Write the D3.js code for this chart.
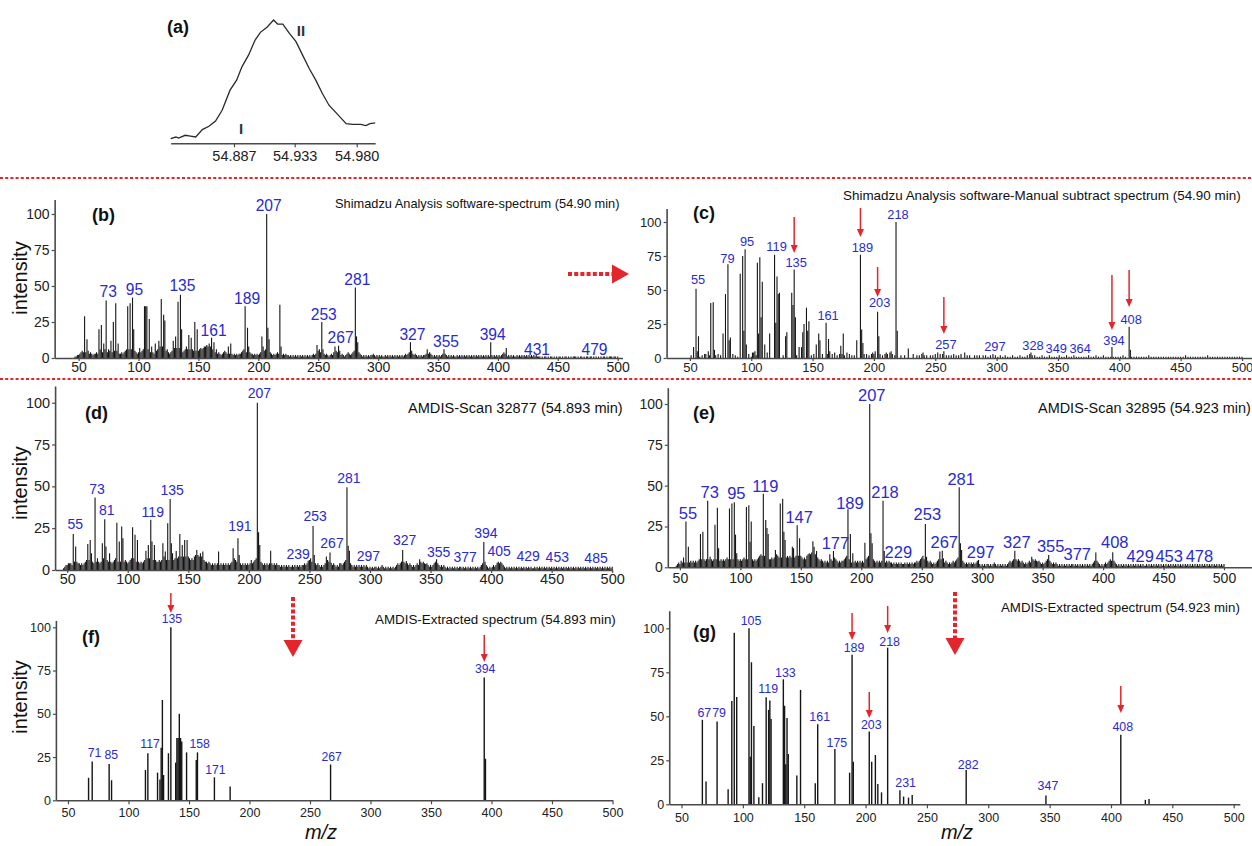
<!DOCTYPE html>
<html><head><meta charset="utf-8">
<script src="https://cdn.jsdelivr.net/npm/d3@7"></script>
<style>
body{margin:0;background:#fff}
svg{display:block}
text{font-family:"Liberation Sans",Arial,Helvetica,sans-serif}
</style>
</head><body>
<svg id="chart" width="1252" height="846"></svg>
<script>
// ---------------- DATA ----------------
// (a) total ion chromatogram segment
const aTime = [54.839,54.843,54.845,54.850,54.854,54.858,54.863,54.868,54.873,54.878,54.884,54.889,54.893,54.898,54.903,54.907,54.912,54.917,54.920,54.924,54.929,54.934,54.939,54.944,54.949,54.954,54.959,54.965,54.972,54.977,54.983,54.987,54.990,54.994];
const aInt  = [3.8,5.1,4.3,6.5,5.9,5.1,11.1,13.8,18.1,26.8,43.1,51.2,62.0,71.5,83.7,90.0,94.1,100,96.7,96.7,89.2,82.4,71.5,60.7,51.2,40.4,30.9,24.1,16.0,15.4,15.4,14.4,16.0,16.5];
const aTicks = [54.887, 54.933, 54.980];
const aDomain = [54.839, 54.994];

const mzTicks = [50,100,150,200,250,300,350,400,450,500];
const intTicks = [0,25,50,75,100];
const noiseStart = 45; // m/z of first digit in the noise strings

// (b) Shimadzu spectrum
const bPeaks = [[52,4],[53,5],[55,29],[57,13],[67,20],[69,23],[71,10],[73,40],[77,12],[79,25],[81,38],[83,10],[91,36],[93,38],[95,42],[96,20],[101,7],[105,36],[106,36],[107,36],[109,27],[111,8],[114,10],[117,12],[119,41],[121,30],[122,26],[129,12],[131,15],[133,39],[135,44],[136,20],[140,8],[142,16],[144,14],[147,25],[149,20],[152,5],[155,7],[157,9],[159,10],[161,14],[163,11],[165,6],[172,5],[175,8],[177,10],[189,36],[191,21],[192,8],[203,15],[204,8],[207,100],[208,21],[209,13],[216,4],[218,37],[219,8],[249,9],[253,25],[254,6],[264,8],[267,8.5],[268,5],[275,4],[281,49],[282,15],[283,11],[327,11],[328,5],[341,6],[355,6],[394,11],[405,3.5],[407,7]];
const bNoise = "0011223434 5465343233 4356547654 6574656543 3434567676 7654343456 7676545434 5678787656 4345676787 6545676565 6545656767 8898987654 4343234343 4323232323 3456544343 3232323456 5676543232 3434323232 2121212121 2121212121 2323456432 3232123243 5453232123 2323457864 3212121212 2321212121 1212121212 1212121232 3454323212 1212234343 2121212123 4321212121 1212121212 1212121212 1212121213 2121212123 4321212121 1212121212 1212121211 1010110101 1010101101 0110101011 1010110101 1011010101 0101101011 101101";
const bLabels = [[73,46],[95,47.7],[135,50.2],[161,18.8],[189,41.5],[207,106],[253,30.3],[267,14.1],[281,54.7],[327,16.5],[355,11.3],[394,16.5],[431,6],[479,6]];

// (c) manual subtract spectrum
const cPeaks = [[51,2],[53,8],[55,51],[56,5],[57,16],[63,3],[65,5],[67,40.5],[69,41],[70,6],[77,18],[79,47],[81,69],[82,13],[83,15],[91,62],[93,75],[94,20],[95,80],[96,10],[101,4],[103,5],[105,70],[106,18],[107,74],[108,30],[109,56],[111,10],[115,18],[119,76],[120,26],[121,60],[122,47],[123,48],[128,16],[129,19],[133,48],[134,39],[135,65],[136,30],[139,8],[141,8],[142,19],[143,25],[145,37],[146,20],[147,27],[153,10],[155,18],[156,13],[161,26],[163,14],[173,9],[175,18],[186,13],[189,76],[190,21],[191,11],[199,4],[201,5],[203,34],[204,16],[210,4],[214,5],[218,100],[219,20],[228,7],[240,4],[252,4],[257,5],[274,4],[297,3],[327,3],[328,4],[394,8],[408,23],[409,6]];
const cNoise = "0000000000 0001020300 0200102030 2030000020 3020100000 0203010402 0000002040 0000000000 0202000000 0020300000 0000203020 0003000305 0304020303 0204030202 0300000303 0203030000 3020303040 3020000200 2000000300 2020302020 0202030203 0300202020 3020203002 0202000202 0200202010 2030201020 1020101020 1010201010 2000202010 1020101020 1010102010 1020101020 1010101010 2010102010 1020101010 1010101020 1000010101 0101010102 0101010101 0101010101 0101010102 0101010101 0101010201 0101010101 0101010101 010101";
// [m/z, label level, optional nudge]
const cLabels = [[55,57.4],[79,72.8],[95,85.5],[119,81.8],[135,70.4],[161,31.6],[189,81.1],[203,40.7],[218,105.7],[257,10],[297,8.8],[328,9],[349,7.1,-2.5],[364,7.1,3],[394,12.7],[408,28.4]];
const cArrows = [[135,103.7,77.2],[189,110.3,89],[203,66.9,44.9],[257,44.9,17.6],[394,61,20.6],[408,64.7,37.5]];

// (d) AMDIS scan 32877
const dPeaks = [[50,3],[52,4],[55,21.5],[57,14],[59,4],[67,15.5],[69,18],[70,10],[73,43.4],[75,7],[79,16],[81,30.3],[82,14],[85,10],[91,28.3],[93,17],[95,26],[96,19],[104,25.5],[106,21],[108,18],[115,11.5],[117,15],[119,30],[120,17],[122,15],[129,16],[131,11],[133,28],[135,42.4],[136,16],[137,10],[140,11.4],[143,21.5],[145,15],[147,18],[149,18],[157,12],[160,10],[162,11],[175,11],[187,13],[191,19],[192,9],[202,6],[207,100],[208,22.5],[209,15],[218,11.5],[248,3.4],[249,5.6],[250,4.4],[253,26.3],[254,9],[264,8],[267,10.4],[268,4.4],[275,4],[281,49.4],[282,14.5],[283,11.5],[327,12],[328,4.4],[330,5.4],[341,6.4],[343,4],[346,3.6],[355,6.4],[394,16.7],[395,5],[405,4.4],[407,4]];
const dNoise = "0012324343 4545343434 5656545465 6545676565 4545676565 7656545676 7656545456 6787676565 5656787676 7656787878 7878787676 8989898765 5454343434 4343434343 4567654343 4343434345 6787654343 4343434343 3232323232 2323232323 3434567543 4343232345 6564343232 3434567654 3232323232 3232121212 2121232121 2121212343 4565434343 2323434545 4343232345 5432323212 1212121212 2121212121 2121212345 4321212323 4545432121 2121212121 2121212121 1212121212 1212121212 1212121212 1212121212 1212121212 1212121212 121212";
const dLabels = [[55,27.5],[73,48.2],[81,35.9],[119,34.9],[135,47.8],[191,26.3],[207,106],[239,9.6],[253,32.3],[267,16],[281,54.8],[297,8.5],[327,17.9],[355,10.9],[377,7.6],[394,22.3],[405,11.4],[429,8.4],[453,8],[485,7.4]];

// (e) AMDIS scan 32895
const ePeaks = [[53,6],[55,28],[57,12.6],[67,20.4],[69,21.8],[73,40.8],[75,6.5],[79,26],[81,36.5],[82,11.6],[91,36],[93,39],[95,39.8],[96,20],[97,8.6],[105,37],[107,38],[108,15.7],[109,28],[119,45],[121,29],[122,24],[123,20.4],[129,10.6],[133,39],[135,42],[136,21.8],[137,16.7],[143,12.6],[144,11.6],[147,25.7],[149,17.8],[157,8.6],[160,16],[161,12.6],[163,10],[174,8],[177,10],[189,35.5],[191,20.4],[193,8.6],[203,15],[207,100],[208,20.8],[209,14.7],[218,40.8],[219,10],[249,4.5],[253,26.5],[254,6.5],[265,9.6],[267,10.2],[268,5.5],[281,49],[282,14.7],[283,10.6],[297,4.5],[327,10.2],[328,4.5],[330,5],[341,6.5],[346,3.5],[355,7.5],[394,9],[408,9.2],[409,3]];
const eNoise = "0012324343 4343434343 4565454565 6545656545 4545656565 6565454565 6565454545 6787676565 5656787676 7656767676 6767676565 7878989876 5454343434 5456543434 4567654343 4343434345 6787654343 4343434343 3232323232 2323232323 3434567543 4343232345 6564343232 3434567654 3232323232 3432121212 2121232121 2121212343 4565434343 2323434545 4343232345 5432323212 1212121212 2121212121 2121212345 4321212323 4545432121 2121212121 2121212121 1212121212 1212121212 1212121212 1212121212 1212121212 1212121212 121212";
const eLabels = [[55,33.4],[73,46.3],[95,45.3],[119,49.8],[147,31],[177,14.7],[189,39.6],[207,105.5],[218,46.3],[229,9.2],[253,32.5],[267,15.7],[281,54.1],[297,9.2],[327,15.7],[355,13.2],[377,8],[408,15.3],[429,6.9],[453,6.9],[478,6.9]];

// (f) AMDIS extracted 54.893
const fPeaks = [[67,13],[70,22.5],[84,21],[86,11.6],[114,17.5],[116,27.2],[124,16],[126,12],[127,30.4],[128,58],[129,14.6],[133,27.2],[135,100],[139,21.8],[140,36],[141,36],[142,50],[143,36],[144,34],[148,27.7],[156,23.3],[157,27.7],[171,13.3],[184,8],[267,20.7],[394,71],[395,24]];
const fLabels = [[71,27.2],[85,26.2],[117,32.4],[135,104.6],[158,32.5],[171,17.5],[267,25.2],[394,75.9]];
const fArrows = [[135,119.8,108.3],[394,95.5,80]];

// (g) AMDIS extracted 54.923
const gPeaks = [[67,48],[70,13],[79,47],[88,8.5],[91,58.7],[93,97.5],[95,61],[105,100],[106,27],[107,80.7],[109,44.5],[113,4],[116,12],[119,60.8],[121,53.6],[122,59],[123,48.5],[133,71],[134,56],[135,22.7],[136,49],[137,28.6],[144,16.3],[147,65],[159,12],[161,45.5],[175,31.4],[187,18],[189,85],[190,24.2],[203,41.3],[205,24.2],[208,28],[210,11.5],[213,6.8],[218,89],[228,8],[231,4.4],[235,3.8],[238,5.3],[282,19.5],[347,5],[408,39.5],[428,2.5],[431,3]];
const gLabels = [[67,52],[79,52],[105,104.3],[119,65.5],[133,74.8],[161,49.4],[175,34.7],[189,88.6],[203,45],[218,92.4],[231,11.9],[282,22.2],[347,10.4],[408,44]];
const gArrows = [[189,108.7,93.4],[218,112.7,97.3],[203,63.8,49],[408,67.2,51.9]];

// ---------------- DRAWING ----------------
const svg = d3.select("#chart");
const RED = "#e3262b", BLUE = "#2a2ad2", INK = "#151515", AXC = "#4a4a4a", TXT = "#222";

function fitText(sel, x0, x1, base){
  const w = sel.node().getComputedTextLength();
  sel.attr("font-size", base * (x1 - x0) / w);
}

function smallArrow(g, x, yTop, yBot){
  g.append("line").attr("x1",x).attr("x2",x).attr("y1",yTop).attr("y2",yBot-7)
    .attr("stroke",RED).attr("stroke-width",1.5);
  g.append("path").attr("d",`M${x-3.5},${yBot-8}L${x+3.5},${yBot-8}L${x},${yBot}Z`).attr("fill",RED);
}

function panel(cfg){
  const k = (cfg.x500 - cfg.x50) / 450;
  const x = d3.scaleLinear().domain([cfg.xMin, cfg.xMax])
    .range([cfg.x50 + (cfg.xMin - 50) * k, cfg.x50 + (cfg.xMax - 50) * k]);
  const yk = (cfg.y0 - cfg.y100) / 100;
  const y = d3.scaleLinear().domain([0, cfg.yMax]).range([cfg.y0, cfg.y0 - cfg.yMax * yk]);
  const g = svg.append("g");

  const vals = new Map();
  if (cfg.noise) {
    cfg.noise.replace(/\s/g,"").split("").forEach((c,i)=>{ const v = +c; if (v > 0) vals.set(noiseStart + i, v); });
  }
  cfg.peaks.forEach(([m,v]) => vals.set(m, Math.max(vals.get(m) || 0, v)));
  const bars = Array.from(vals, ([m,v]) => ({m, v})).filter(d => d.m >= cfg.xMin && d.m <= cfg.xMax);
  g.append("g").selectAll("line").data(bars).join("line")
    .attr("x1", d => x(d.m)).attr("x2", d => x(d.m))
    .attr("y1", y(0)).attr("y2", d => y(d.v))
    .attr("stroke", INK).attr("stroke-width", cfg.bw);

  const xa = g.append("g").attr("transform", `translate(0,${cfg.y0})`)
    .call(d3.axisBottom(x).tickValues(mzTicks).tickSize(cfg.xts).tickPadding(cfg.xpad).tickSizeOuter(0));
  const ya = g.append("g").attr("transform", `translate(${x(cfg.xMin)},0)`)
    .call(d3.axisLeft(y).tickValues(intTicks).tickSize(3).tickPadding(2).tickSizeOuter(0));
  [xa, ya].forEach(a => {
    a.select(".domain").attr("stroke", AXC).attr("stroke-width", 1.6);
    a.selectAll(".tick line").attr("stroke", AXC).attr("stroke-width", 1.2);
    a.selectAll(".tick text").attr("fill", TXT).attr("font-size", cfg.tfs)
      .attr("font-family", "Liberation Sans, Arial, sans-serif");
  });

  g.append("g").selectAll("text").data(cfg.labels).join("text")
    .attr("x", d => x(d[0]) + cfg.ldx + (d[2] || 0)).attr("y", d => y(d[1]))
    .attr("text-anchor", "middle").attr("dominant-baseline", "central")
    .attr("fill", BLUE).attr("font-size", cfg.lfs).text(d => d[0]);

  (cfg.arrows || []).forEach(([m, top, bot]) => smallArrow(g, x(m), y(top), y(bot)));

  g.append("text").attr("x", cfg.letter[1]).attr("y", cfg.letter[2]).attr("dominant-baseline","central")
    .attr("font-weight","bold").attr("font-size",18).attr("fill","#111").text(cfg.letter[0]);
  const t = g.append("text").attr("x", cfg.title[1]).attr("y", cfg.title[3]).attr("dominant-baseline","central")
    .attr("fill","#111").attr("font-size",13).text(cfg.title[0]);
  fitText(t, cfg.title[1], cfg.title[2], 13);
}

// ----- (a) -----
(function(){
  const xs = d3.scaleLinear().domain([54.887, 54.980]).range([234, 356.7]);
  const xa = d3.scaleLinear().domain(aDomain).range(aDomain.map(xs));
  const ys = d3.scaleLinear().domain([0,100]).range([143.3, 20]);
  const g = svg.append("g");
  g.append("path").datum(aTime.map((t,i)=>[t,aInt[i]]))
    .attr("d", d3.line().x(d=>xa(d[0])).y(d=>ys(d[1])))
    .attr("fill","none").attr("stroke","#2a2a2a").attr("stroke-width",1.3);
  const ax = g.append("g").attr("transform","translate(0,143.3)")
    .call(d3.axisBottom(xa).tickValues(aTicks).tickFormat(d3.format(".3f")).tickSize(4).tickPadding(3).tickSizeOuter(0));
  ax.select(".domain").attr("stroke",AXC).attr("stroke-width",1.5);
  ax.selectAll(".tick line").attr("stroke",AXC).attr("stroke-width",1.2);
  ax.selectAll(".tick text").attr("fill",TXT).attr("font-size",14.5).attr("font-family","Liberation Sans, Arial, sans-serif");
  g.append("text").attr("x",167).attr("y",27).attr("dominant-baseline","central").attr("font-weight","bold").attr("font-size",18).attr("fill","#111").text("(a)");
  g.append("text").attr("x",241).attr("y",128).attr("text-anchor","middle").attr("dominant-baseline","central").attr("font-weight","bold").attr("font-size",15).attr("fill","#333").text("I");
  g.append("text").attr("x",301).attr("y",30).attr("text-anchor","middle").attr("dominant-baseline","central").attr("font-weight","bold").attr("font-size",15).attr("fill","#333").text("II");
})();

// separators
[178, 379].forEach(yy => svg.append("line").attr("x1",0).attr("x2",1252).attr("y1",yy).attr("y2",yy)
  .attr("stroke",RED).attr("stroke-width",2).attr("stroke-dasharray","3,2.2"));

panel({peaks:bPeaks, noise:bNoise, labels:bLabels, x50:78.6, x500:617.7, xMin:30, xMax:504, y0:358, y100:214, yMax:110,
  bw:1.1, xts:3, xpad:1, tfs:14, lfs:15.6, ldx:2, letter:["(b)",92,215], title:["Shimadzu Analysis software-spectrum (54.90 min)",335,620,203]});
panel({peaks:cPeaks, noise:cNoise, labels:cLabels, arrows:cArrows, x50:689.9, x500:1242, xMin:31, xMax:512, y0:358, y100:222, yMax:110,
  bw:1.1, xts:3, xpad:2, tfs:13, lfs:12.8, ldx:2, letter:["(c)",693,213], title:["Shimadzu Analysis software-Manual subtract spectrum (54.90 min)",843,1241,195]});
panel({peaks:dPeaks, noise:dNoise, labels:dLabels, x50:67.2, x500:612.2, xMin:40, xMax:500, y0:570, y100:402.7, yMax:110,
  bw:1.1, xts:3, xpad:1, tfs:14.5, lfs:14, ldx:2, letter:["(d)",85,413], title:["AMDIS-Scan 32877 (54.893 min)",408,623,408]});
panel({peaks:ePeaks, noise:eNoise, labels:eLabels, x50:679.9, x500:1224, xMin:40, xMax:524, y0:567.3, y100:404, yMax:110,
  bw:1.1, xts:3, xpad:3, tfs:14, lfs:16.5, ldx:2, letter:["(e)",693,413], title:["AMDIS-Scan 32895 (54.923 min)",1038,1251,408]});
panel({peaks:fPeaks, labels:fLabels, arrows:fArrows, x50:68, x500:612.5, xMin:40, xMax:500, y0:800.3, y100:627.3, yMax:104,
  bw:1.4, xts:4, xpad:4, tfs:12.5, lfs:12.2, ldx:1, letter:["(f)",82,637], title:["AMDIS-Extracted spectrum (54.893 min)",375,616,619]});
panel({peaks:gPeaks, labels:gLabels, arrows:gArrows, x50:681.5, x500:1233.7, xMin:40, xMax:505, y0:804.3, y100:628.3, yMax:110,
  bw:1.4, xts:4, xpad:5, tfs:12.5, lfs:12.4, ldx:2, letter:["(g)",693,632], title:["AMDIS-Extracted spectrum (54.923 min)",1001,1240,607]});

// y axis titles
[278, 483, 697].forEach(cy => svg.append("text")
  .attr("transform",`translate(20,${cy}) rotate(-90)`).attr("text-anchor","middle").attr("dominant-baseline","central")
  .attr("font-size",20).attr("fill","#111").text("intensity"));
// x axis titles
[321, 957].forEach(cx => svg.append("text").attr("x",cx).attr("y",832).attr("text-anchor","middle")
  .attr("dominant-baseline","central").attr("font-style","italic").attr("font-size",20).attr("fill","#111").text("m/z"));

// big dotted arrows
function bigArrow(x1,y1,x2,y2){
  const ang = Math.atan2(y2-y1, x2-x1), L = 17, W = 9.5;
  const bx = x2 - L*Math.cos(ang), by = y2 - L*Math.sin(ang);
  svg.append("line").attr("x1",x1).attr("y1",y1).attr("x2",bx).attr("y2",by)
    .attr("stroke",RED).attr("stroke-width",4).attr("stroke-dasharray","4,2.2");
  const px = -Math.sin(ang)*W, py = Math.cos(ang)*W;
  svg.append("path").attr("d",`M${bx+px},${by+py}L${bx-px},${by-py}L${x2},${y2}Z`).attr("fill",RED);
}
bigArrow(568, 274, 629, 274);
bigArrow(293, 597, 293, 657);
bigArrow(955, 592, 955, 655);
</script>
</body></html>
